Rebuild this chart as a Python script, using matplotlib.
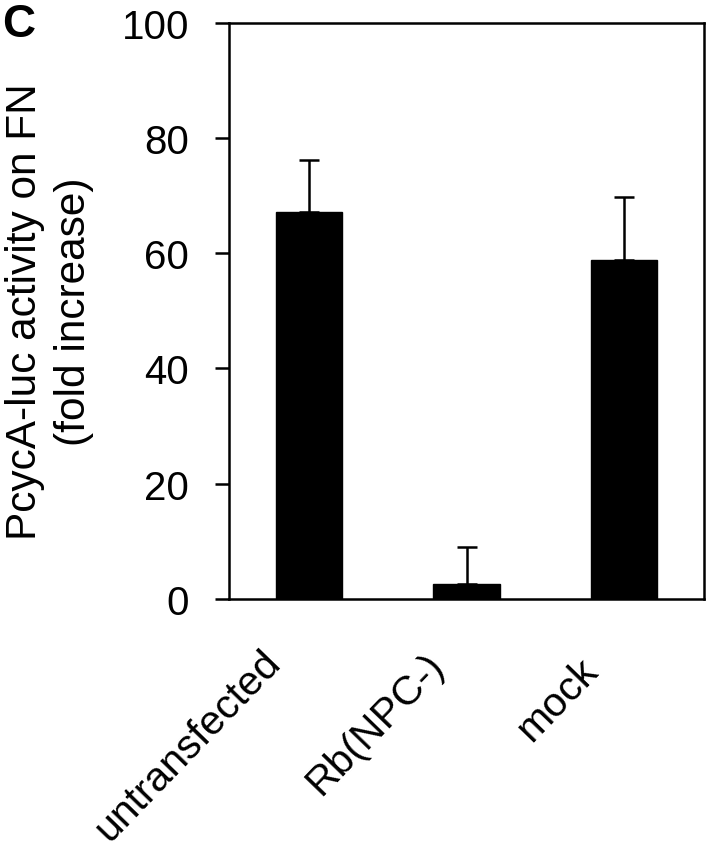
import matplotlib
matplotlib.use("Agg")
import matplotlib.pyplot as plt
import matplotlib.transforms as mtransforms
import numpy as np

categories = ["untransfected", "Rb(NPC-)", "mock"]
values = [67.1, 2.6, 58.8]
err_upper = [9.0, 6.5, 10.9]
yticks = [0, 20, 40, 60, 80, 100]

plt.rcParams['font.family'] = ['Liberation Sans', 'DejaVu Sans']

fig = plt.figure(figsize=(7.14, 8.53), dpi=100)
ax = fig.add_axes([0.3214, 0.2966, 0.6646, 0.6758])

x = np.arange(len(categories))
ax.bar(x, values, width=0.425, color='black', edgecolor='black', zorder=2)
ax.errorbar(x, values, yerr=[np.zeros(len(values)), err_upper], fmt='none',
            ecolor='black', elinewidth=1.8, capsize=7.5, capthick=1.8, zorder=1)

ax.set_xlim(-0.505, 2.508)
ax.set_ylim(0, 100)
ax.set_yticks(yticks)
ax.set_yticklabels([str(t) for t in yticks], fontsize=29)
ax.tick_params(axis='y', direction='out', length=10, width=1.8, pad=19)
ax.tick_params(axis='x', length=0, pad=0)
for s in ax.spines.values():
    s.set_linewidth(1.8)

ax.set_xticks(x)
ax.set_xticklabels(categories, fontsize=29.5, rotation=46, ha='center', va='center',
                   rotation_mode='anchor')
offsets_px = [(-121, -146), (-91, -124), (-67, -100)]
for lab, (dx, dy) in zip(ax.get_xticklabels(), offsets_px):
    lab.set_transform(lab.get_transform() +
                      mtransforms.ScaledTranslation(dx / 100, dy / 100, fig.dpi_scale_trans))

ax.set_ylabel("PcycA-luc activity on FN\n(fold increase)", fontsize=30.5, labelpad=20,
              linespacing=1.3)

fig.text(0.003, 0.997, "C", fontsize=33, fontweight='bold', ha='left', va='top')

fig.savefig("out.png", dpi=100)
